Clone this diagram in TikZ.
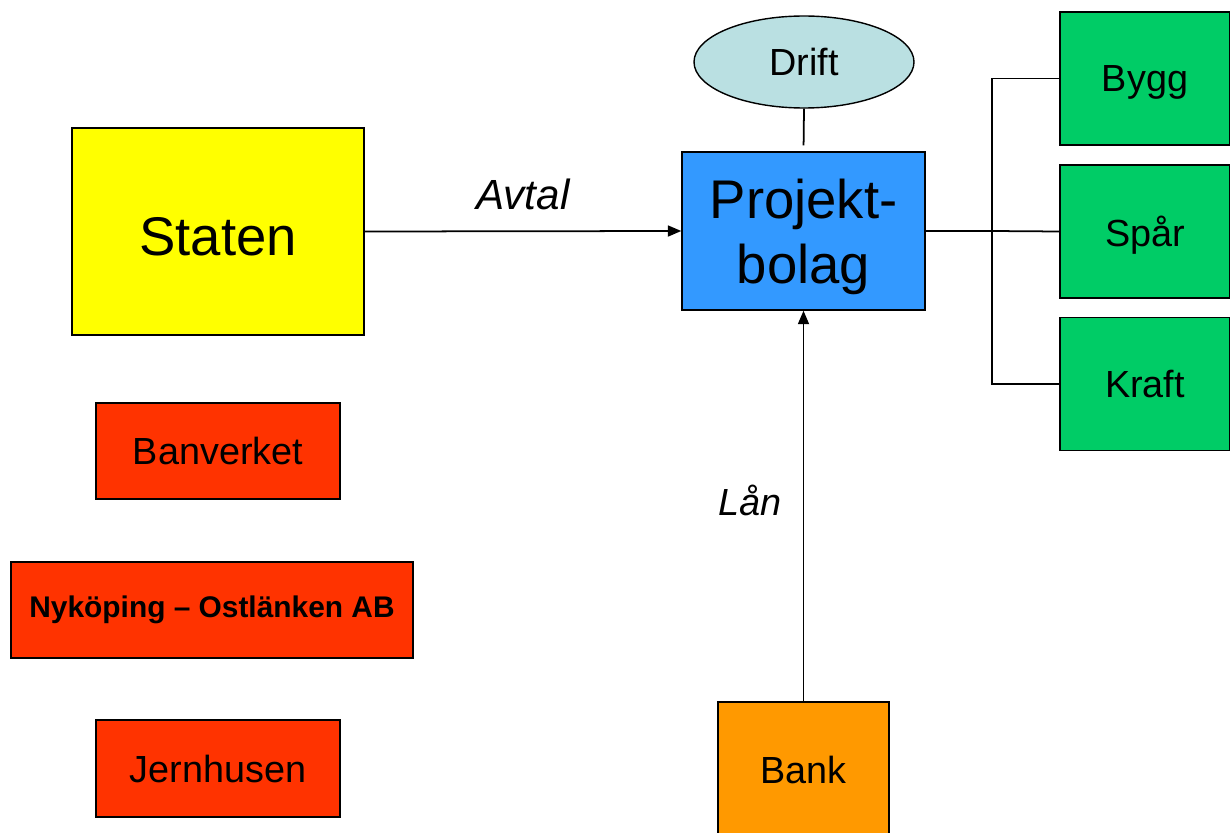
\documentclass[tikz,border=0pt]{standalone}
\usepackage{fontspec}
\setmainfont{Liberation Sans}
\usetikzlibrary{positioning,arrows.meta,shapes.geometric}
\definecolor{statenyellow}{HTML}{FFFF00}
\definecolor{partred}{HTML}{FF3300}
\definecolor{projblue}{HTML}{3399FF}
\definecolor{entgreen}{HTML}{00CC66}
\definecolor{bankorange}{HTML}{FF9900}
\definecolor{driftcyan}{HTML}{BAE0E2}
\tikzset{
    box/.style={
        rectangle,
        draw,
        line width=0.8pt,
        inner sep=2pt,
        align=center
    },
    bigtext/.style={font=\fontsize{31}{37}\selectfont},
    midtext/.style={font=\fontsize{21.5}{26}\selectfont},
    link/.style={line width=1pt},
    flow/.style={line width=1pt, -{Triangle[length=0.27cm,width=0.22cm]}}
}

\begin{document}
\begin{tikzpicture}
\useasboundingbox (0,0) rectangle (24.6,-16.66);

% Parties on the left
\node[box, bigtext, fill=statenyellow, minimum width=5.84cm, minimum height=4.14cm, text height=0.95cm, text depth=0pt] (staten) at (4.36,-4.63) {Staten};
\node[box, midtext, fill=partred, minimum width=4.88cm, minimum height=1.92cm, text depth=0pt] (banverket) at (4.36,-9.02) {Banverket};
\node[box, font=\fontsize{17}{20}\selectfont\bfseries, fill=partred, minimum width=8.04cm, minimum height=1.92cm] (nykoping) at (4.24,-12.2) {Nyköping – Ostlänken AB};
\node[box, midtext, fill=partred, minimum width=4.88cm, minimum height=1.94cm, text depth=0pt] (jernhusen) at (4.36,-15.37) {Jernhusen};

% Project company with operation and bank
\node[box, bigtext, fill=projblue, minimum width=4.86cm, minimum height=3.16cm, text depth=0pt] (proj) at (16.07,-4.62) {Projekt-\\bolag};
\node[ellipse, draw, line width=0.8pt, midtext, fill=driftcyan, minimum width=4.4cm, minimum height=1.84cm, inner sep=1pt] (drift) at (16.08,-1.24) {Drift};
\node[box, midtext, fill=bankorange, minimum width=3.42cm, minimum height=2.72cm] (bank) at (16.07,-15.4) {Bank};

% Contractors on the right
\node[box, midtext, fill=entgreen, minimum width=3.4cm, minimum height=2.66cm, text depth=0pt] (bygg) at (22.9,-1.57) {Bygg};
\node[box, midtext, fill=entgreen, minimum width=3.4cm, minimum height=2.66cm, text depth=0pt] (spar) at (22.9,-4.63) {Spår};
\node[box, midtext, fill=entgreen, minimum width=3.4cm, minimum height=2.66cm] (kraft) at (22.9,-7.68) {Kraft};

% Agreement and loan
\draw[flow] (staten.east) -- (proj.west)
    node[midway, above=0.3cm, font=\fontsize{24}{28}\selectfont\itshape] (avtal) {Avtal};
\draw[flow] (bank.north) -- (proj.south)
    node[midway, left=0.3cm, yshift=0.12cm, font=\fontsize{21.5}{26}\selectfont\itshape] (lan) {Lån};

% Operation
\draw[link, shorten >=0.12cm] (drift.south) -- (proj.north);

% Branch to contractors
\coordinate (fork) at (19.84,-4.62);
\draw[link] (proj.east) -- (fork);
\draw[link] (bygg.west) -| (fork) |- (kraft.west);
\draw[link] (fork) -- (spar.west);
\end{tikzpicture}
\end{document}
